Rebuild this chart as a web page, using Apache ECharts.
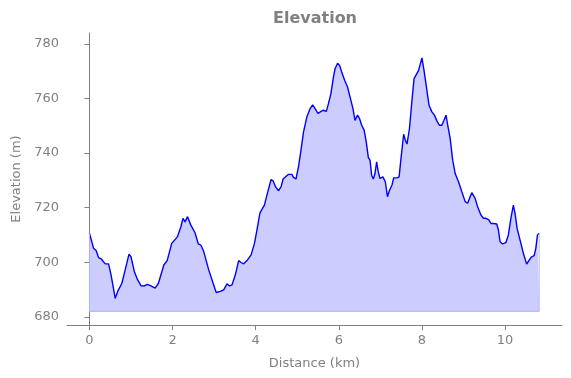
<!DOCTYPE html>
<html>
<head>
<meta charset="utf-8">
<script src="https://cdn.jsdelivr.net/npm/echarts@6/dist/echarts.min.js"></script>
<style>
  html, body { margin: 0; padding: 0; background: #fff; }
  #chart { width: 571px; height: 378px; }
</style>
</head>
<body>
<div id="chart"></div>
<script>
// distance along the route (km)
var distance = [
  0.00, 0.04, 0.10, 0.16, 0.22, 0.29, 0.38, 0.46, 0.52, 0.62, 0.68, 0.78, 0.86, 0.95, 1.00,
  1.08, 1.16, 1.24, 1.32, 1.39, 1.48, 1.58, 1.66, 1.79, 1.87, 1.98, 2.12, 2.20, 2.25, 2.30,
  2.36, 2.44, 2.54, 2.62, 2.68, 2.75, 2.87, 2.95, 3.05, 3.15, 3.23, 3.31, 3.37, 3.43, 3.51,
  3.59, 3.65, 3.71, 3.79, 3.89, 3.97, 4.03, 4.10, 4.15, 4.21, 4.27, 4.37, 4.42, 4.48, 4.55,
  4.61, 4.66, 4.74, 4.79, 4.87, 4.91, 4.97, 5.03, 5.09, 5.15, 5.23, 5.31, 5.37, 5.43, 5.50,
  5.57, 5.63, 5.70, 5.75, 5.81, 5.87, 5.91, 5.97, 6.02, 6.07, 6.14, 6.21, 6.27, 6.34, 6.39,
  6.45, 6.50, 6.55, 6.61, 6.66, 6.71, 6.75, 6.79, 6.83, 6.87, 6.91, 6.95, 6.99, 7.06, 7.12,
  7.17, 7.22, 7.28, 7.32, 7.40, 7.45, 7.50, 7.56, 7.60, 7.64, 7.70, 7.76, 7.81, 7.92, 8.00,
  8.05, 8.12, 8.17, 8.24, 8.30, 8.36, 8.42, 8.48, 8.53, 8.58, 8.62, 8.68, 8.74, 8.80, 8.88,
  8.96, 9.04, 9.10, 9.16, 9.20, 9.28, 9.34, 9.42, 9.48, 9.54, 9.61, 9.66, 9.72, 9.80, 9.84,
  9.88, 9.94, 10.02, 10.08, 10.14, 10.20, 10.24, 10.29, 10.36, 10.44, 10.52, 10.58, 10.64, 10.70, 10.74,
  10.78, 10.82
];
// elevation (m)
var elevation = [
  710.6, 710.3, 705.1, 704.3, 701.7, 701.1, 699.4, 699.4, 695.4, 686.8, 689.3, 692.3, 697.2, 702.9, 702.0,
  696.6, 693.5, 691.4, 691.3, 691.9, 691.3, 690.5, 692.3, 699.0, 700.6, 706.9, 709.4, 713.0, 716.1, 714.8,
  716.7, 713.6, 710.8, 706.7, 706.3, 703.9, 697.2, 693.5, 688.9, 689.3, 689.9, 692.1, 691.3, 691.7, 695.4,
  700.6, 699.9, 699.4, 700.6, 702.7, 706.9, 711.8, 717.9, 719.4, 720.9, 724.6, 730.3, 729.8, 727.6, 726.2,
  727.6, 730.5, 731.6, 732.2, 732.2, 731.1, 730.5, 735.0, 741.1, 747.7, 753.2, 756.3, 757.7, 756.3, 754.5,
  755.3, 755.7, 755.3, 758.1, 761.8, 767.8, 770.9, 772.9, 772.1, 769.7, 766.7, 764.2, 760.6, 756.3, 752.0,
  753.9, 752.6, 750.2, 748.4, 744.1, 738.4, 737.4, 731.9, 730.5, 732.5, 736.8, 733.1, 730.7, 731.3, 729.5,
  724.0, 726.4, 728.3, 730.9, 730.9, 731.3, 738.6, 746.9, 744.7, 743.3, 749.0, 759.3, 767.3, 770.3, 774.9,
  770.3, 763.0, 757.5, 755.1, 753.9, 751.8, 750.2, 750.2, 752.0, 753.9, 750.2, 745.3, 737.4, 732.5, 729.5,
  725.8, 722.2, 721.6, 724.0, 725.5, 723.4, 720.3, 717.3, 716.1, 716.1, 715.5, 714.2, 714.2, 714.0, 711.8,
  707.5, 706.7, 707.2, 710.0, 716.1, 720.9, 717.9, 712.4, 708.2, 703.3, 699.3, 700.8, 702.0, 702.4, 705.1,
  710.0, 710.6
];
var baseLevel = 682;
var xTicks = [0, 2, 4, 6, 8, 10];
var yTicks = [680, 700, 720, 740, 760, 780];

var chart = echarts.init(document.getElementById('chart'));

var profile = distance.map(function (d, i) { return [d, elevation[i]]; });
var last = distance.length - 1;
// outline of the filled polygon (sides + bottom)
var outline = [
  [distance[0], elevation[0]], [distance[0], baseLevel],
  [distance[last], baseLevel], [distance[last], elevation[last]]
];

var grey = '#808080';
var font = 'DejaVu Sans';

var option = {
  animation: false,
  title: {
    text: 'Elevation',
    left: 268,
    top: 6,
    textStyle: { color: grey, fontFamily: font, fontSize: 16, fontWeight: 'bold' }
  },
  grid: { left: 67, right: 9, top: 33, bottom: 53 },
  xAxis: {
    type: 'value',
    min: -0.54,
    max: 11.37,
    name: 'Distance (km)',
    nameLocation: 'middle',
    nameGap: 32,
    nameTextStyle: { color: grey, fontFamily: font, fontSize: 13 },
    axisLine: { lineStyle: { color: grey, width: 1 } },
    axisTick: { show: true, length: 5, lineStyle: { color: grey }, customValues: xTicks },
    axisLabel: { color: grey, fontFamily: font, fontSize: 13, margin: 9, customValues: xTicks },
    splitLine: { show: false }
  },
  yAxis: {
    type: 'value',
    min: 677,
    max: 784,
    name: 'Elevation (m)',
    nameLocation: 'middle',
    nameGap: 44,
    nameTextStyle: { color: grey, fontFamily: font, fontSize: 13 },
    axisLine: { show: true, lineStyle: { color: grey, width: 1 } },
    axisTick: { show: true, length: 5, lineStyle: { color: grey }, customValues: yTicks },
    axisLabel: { color: grey, fontFamily: font, fontSize: 13, margin: 8, customValues: yTicks },
    splitLine: { show: false }
  },
  series: [
    {
      type: 'line',
      data: profile,
      showSymbol: false,
      smooth: false,
      lineStyle: { color: '#0000ff', width: 1.4 },
      areaStyle: { color: '#ccccff', opacity: 1, origin: baseLevel },
      z: 3
    },
    {
      type: 'line',
      data: outline,
      showSymbol: false,
      lineStyle: { color: '#b3b3ff', width: 1 },
      z: 4
    }
  ]
};

chart.setOption(option);
window.addEventListener('resize', function () { chart.resize(); });
</script>
</body>
</html>
